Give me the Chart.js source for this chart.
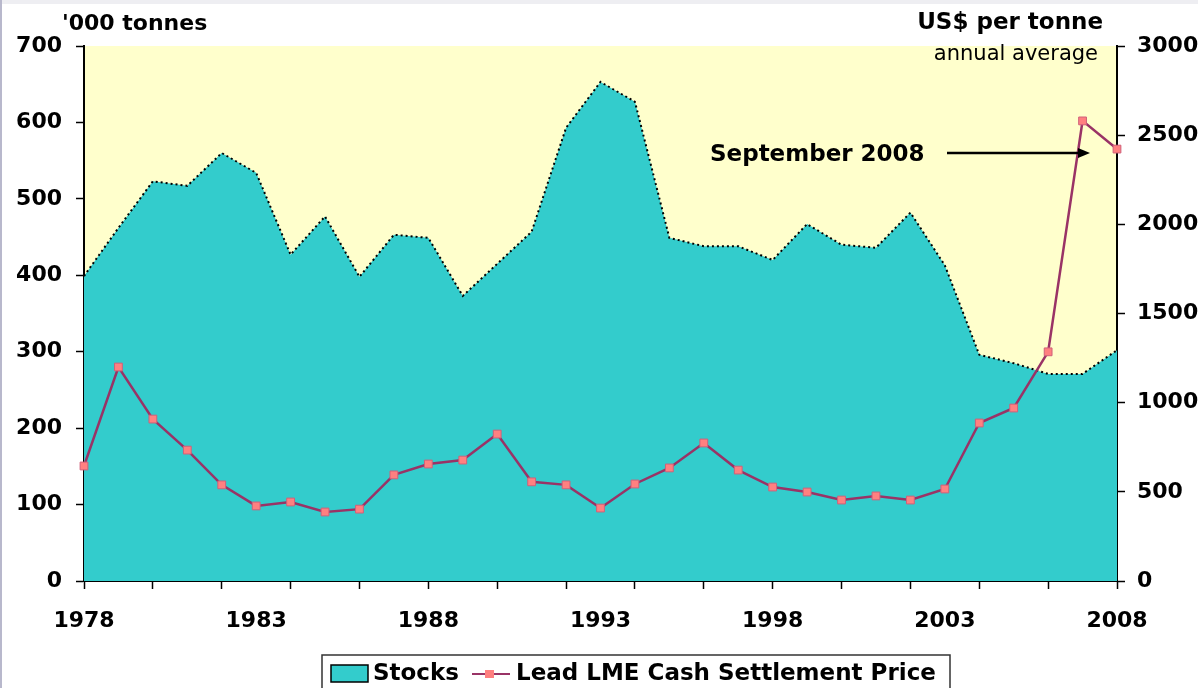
<!DOCTYPE html>
<html><head><meta charset="utf-8">
<script src="https://cdn.jsdelivr.net/npm/chart.js@4/dist/chart.umd.min.js"></script>
<style>html,body{margin:0;padding:0;background:#fff;overflow:hidden}#wrap{width:1198px;height:688px;position:relative}</style>
</head><body><div id="wrap"><canvas id="c" width="1198" height="688"></canvas></div>
<script>
const years = ['1978','1979','1980','1981','1982','1983','1984','1985','1986','1987','1988','1989','1990','1991','1992','1993','1994','1995','1996','1997','1998','1999','2000','2001','2002','2003','2004','2005','2006','2007','2008'];
const stocks = [399,462,523,517,560,534,427,477,398,453,449,373,415,457,593,653,627,449,438,438,420,467,440,436,482,413,296,285,271,271,302];
const prices = [645,1200,908,734,539,421,443,387,403,595,656,678,824,556,539,409,544,634,774,622,527,499,454,477,454,516,886,970,1285,2580,2422];
const xTickLabels = ['1978','1983','1988','1993','1998','2003','2008'];
const leftAxisTitle = "'000 tonnes";
const rightAxisTitle = 'US$ per tonne';
const rightAxisSubtitle = 'annual average';
const annotationText = 'September 2008';
const seriesNames = ['Stocks', 'Lead LME Cash Settlement Price'];

const TEAL = '#33CCCC', YELLOW = '#FFFFCC', LINE = '#993366', MARK = '#FF8080';
const FONT = 'DejaVu Sans';

const decor = {
  id: 'decor',
  beforeDraw(chart) {
    const {ctx, chartArea: a} = chart;
    ctx.save();
    ctx.fillStyle = '#fff';
    ctx.fillRect(0, 0, chart.width, chart.height);
    ctx.fillStyle = '#EEEEF2';
    ctx.fillRect(0, 0, chart.width, 4);
    ctx.fillStyle = '#B8B8CC';
    ctx.fillRect(0, 0, 2, chart.height);
    ctx.fillStyle = YELLOW;
    ctx.fillRect(a.left, a.top, a.right - a.left, a.bottom - a.top);
    ctx.restore();
  },
  afterDraw(chart) {
    const {ctx} = chart;
    ctx.save();
    ctx.fillStyle = '#000';
    ctx.textBaseline = 'alphabetic';
    ctx.font = 'bold 22px "' + FONT + '"';
    ctx.textAlign = 'left';
    ctx.fillText(leftAxisTitle, 62, 30);
    ctx.textAlign = 'right';
    ctx.font = 'bold 23px "' + FONT + '"';
    ctx.fillText(rightAxisTitle, 1103, 29);
    ctx.font = '21px "' + FONT + '"';
    ctx.fillText(rightAxisSubtitle, 1098, 60);

    // annotation
    ctx.textAlign = 'left';
    ctx.textBaseline = 'middle';
    ctx.font = 'bold 23px "' + FONT + '"';
    ctx.fillText(annotationText, 710, 155);
    ctx.strokeStyle = '#000';
    ctx.lineWidth = 2.5;
    ctx.beginPath();
    ctx.moveTo(947, 153);
    ctx.lineTo(1080, 153);
    ctx.stroke();
    ctx.beginPath();
    ctx.moveTo(1090, 153);
    ctx.lineTo(1078, 148);
    ctx.lineTo(1078, 158);
    ctx.closePath();
    ctx.fillStyle = '#000';
    ctx.fill();

    // legend
    ctx.strokeStyle = '#333';
    ctx.lineWidth = 1.5;
    ctx.strokeRect(322, 655, 628, 45);
    ctx.fillStyle = TEAL;
    ctx.fillRect(331, 665, 37, 17);
    ctx.strokeStyle = '#000';
    ctx.lineWidth = 1.5;
    ctx.strokeRect(331, 665, 37, 17);
    ctx.fillStyle = '#000';
    ctx.font = 'bold 23px "' + FONT + '"';
    ctx.textBaseline = 'middle';
    ctx.fillText(seriesNames[0], 373, 674);
    ctx.strokeStyle = LINE;
    ctx.lineWidth = 2;
    ctx.beginPath();
    ctx.moveTo(472, 674);
    ctx.lineTo(510, 674);
    ctx.stroke();
    ctx.fillStyle = MARK;
    ctx.fillRect(485, 670, 9, 8);
    ctx.fillStyle = '#000';
    ctx.fillText(seriesNames[1], 516, 674);
    ctx.restore();
  }
};

const tickFont = {family: FONT, weight: 'bold', size: 22};

new Chart(document.getElementById('c'), {
  type: 'line',
  data: {
    labels: years,
    datasets: [
      {
        label: seriesNames[0],
        data: stocks,
        yAxisID: 'y',
        order: 2,
        fill: 'origin',
        backgroundColor: TEAL,
        borderColor: '#000',
        borderWidth: 2,
        borderDash: [2, 3],
        pointRadius: 0,
        tension: 0
      },
      {
        label: seriesNames[1],
        data: prices,
        yAxisID: 'y1',
        order: 1,
        fill: false,
        borderColor: LINE,
        borderWidth: 2.5,
        pointStyle: 'rect',
        pointRadius: 5.5,
        pointBackgroundColor: MARK,
        pointBorderColor: '#D0607A',
        pointBorderWidth: 1,
        tension: 0,
        clip: false
      }
    ]
  },
  options: {
    responsive: false,
    animation: false,
    devicePixelRatio: 1,
    layout: {padding: {top: 46, bottom: 57, left: 0, right: 0}},
    plugins: {legend: {display: false}, tooltip: {enabled: false}},
    scales: {
      x: {
        type: 'category',
        offset: false,
        grid: {display: true, drawOnChartArea: false, drawTicks: true, tickLength: 8, tickWidth: 1.5,
               tickColor: (c) => (c.index % 2 === 0 ? '#000' : 'rgba(0,0,0,0)')},
        border: {display: true, color: '#000', width: 2},
        ticks: {autoSkip: false, maxRotation: 0, minRotation: 0, padding: 19, color: '#000', font: tickFont,
                callback: (v, i) => (xTickLabels.includes(years[i]) ? years[i] : '')},
        afterFit: (s) => { s.height = 50; }
      },
      y: {
        position: 'left',
        min: 0, max: 700,
        grid: {drawOnChartArea: false, drawTicks: true, tickLength: 8, tickWidth: 1.5, tickColor: '#000'},
        border: {display: true, color: '#000', width: 2},
        ticks: {stepSize: 100, padding: 14, color: '#000', font: tickFont, callback: (v) => String(v)},
        afterFit: (s) => { s.width = 84; }
      },
      y1: {
        position: 'right',
        min: 0, max: 3000,
        grid: {drawOnChartArea: false, drawTicks: true, tickLength: 8, tickWidth: 1.5, tickColor: '#000'},
        border: {display: true, color: '#000', width: 2},
        ticks: {stepSize: 500, padding: 12, color: '#000', font: tickFont, callback: (v) => String(v)},
        afterFit: (s) => { s.width = 81; }
      }
    }
  },
  plugins: [decor]
});
</script>
</body></html>
